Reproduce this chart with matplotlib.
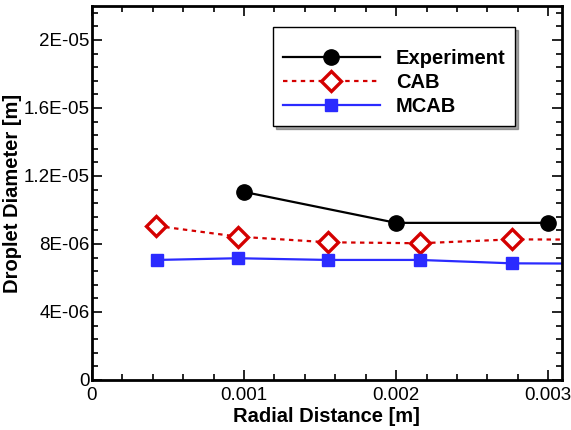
import matplotlib
matplotlib.use('Agg')
import matplotlib.pyplot as plt
from matplotlib.ticker import MultipleLocator, FuncFormatter

plt.rcParams['font.family'] = ['Liberation Sans', 'DejaVu Sans']

# data
exp_x = [0.001, 0.002, 0.003]
exp_y = [1.106e-5, 9.24e-6, 9.24e-6]
cab_x = [0.000424, 0.00096, 0.00155, 0.002155, 0.002763, 0.00337]
cab_y = [9.06e-6, 8.43e-6, 8.10e-6, 8.04e-6, 8.27e-6, 8.25e-6]
mcab_x = [0.000428, 0.00096, 0.00155, 0.002155, 0.002763, 0.00337]
mcab_y = [7.06e-6, 7.16e-6, 7.06e-6, 7.06e-6, 6.86e-6, 6.84e-6]

fig = plt.figure(figsize=(5.71, 4.30), dpi=100)
ax = fig.add_axes([0.161, 0.1163, 0.823, 0.87])

ax.plot(exp_x, exp_y, color='black', lw=1.6, marker='o', ms=11, label='Experiment')
ax.plot(cab_x, cab_y, color='#d40000', lw=1.6, ls=(0, (2, 2)), marker='D', ms=10,
        mfc='white', mec='#d40000', mew=2.4, label='CAB')
ax.plot(mcab_x, mcab_y, color='#2b2bff', lw=1.6, marker='s', ms=8, label='MCAB')

ax.set_xlim(0, 0.00309)
ax.set_ylim(0, 2.2e-5)
ax.xaxis.set_major_locator(MultipleLocator(0.001))
ax.xaxis.set_minor_locator(MultipleLocator(0.0002))
ax.yaxis.set_major_locator(MultipleLocator(4e-6))
ax.yaxis.set_minor_locator(MultipleLocator(8e-7))

def yfmt(v, pos):
    if abs(v) < 1e-12:
        return '0'
    m, e = ('%.1E' % v).split('E')
    m = m.rstrip('0').rstrip('.')
    return '%sE-%02d' % (m, -int(e))

ax.yaxis.set_major_formatter(FuncFormatter(yfmt))
ax.xaxis.set_major_formatter(FuncFormatter(lambda v, p: '0' if abs(v) < 1e-12 else ('%g' % v)))

ax.tick_params(which='both', direction='in', top=True, right=True, labelsize=13.5, width=1.2)
ax.tick_params(axis='y', pad=1.5)
ax.tick_params(axis='x', pad=5)
ax.tick_params(which='major', length=7)
ax.tick_params(which='minor', length=4)
for s in ax.spines.values():
    s.set_linewidth(2)

ax.set_xlabel('Radial Distance [m]', fontsize=14.5, fontweight='bold', labelpad=2)
ax.set_ylabel('Droplet Diameter [m]', fontsize=14.5, fontweight='bold', labelpad=1)

leg = ax.legend(loc='upper left', bbox_to_anchor=(0.385, 0.944), borderaxespad=0,
                fancybox=False, shadow=True, title=' ', title_fontsize=5,
                prop={'weight': 'bold', 'size': 14.5}, handlelength=4.8, handletextpad=0.8,
                borderpad=0.5, labelspacing=0.25, framealpha=1)
leg.get_frame().set_edgecolor('black')
leg.get_frame().set_linewidth(1.0)

fig.savefig('out.png', dpi=100)
